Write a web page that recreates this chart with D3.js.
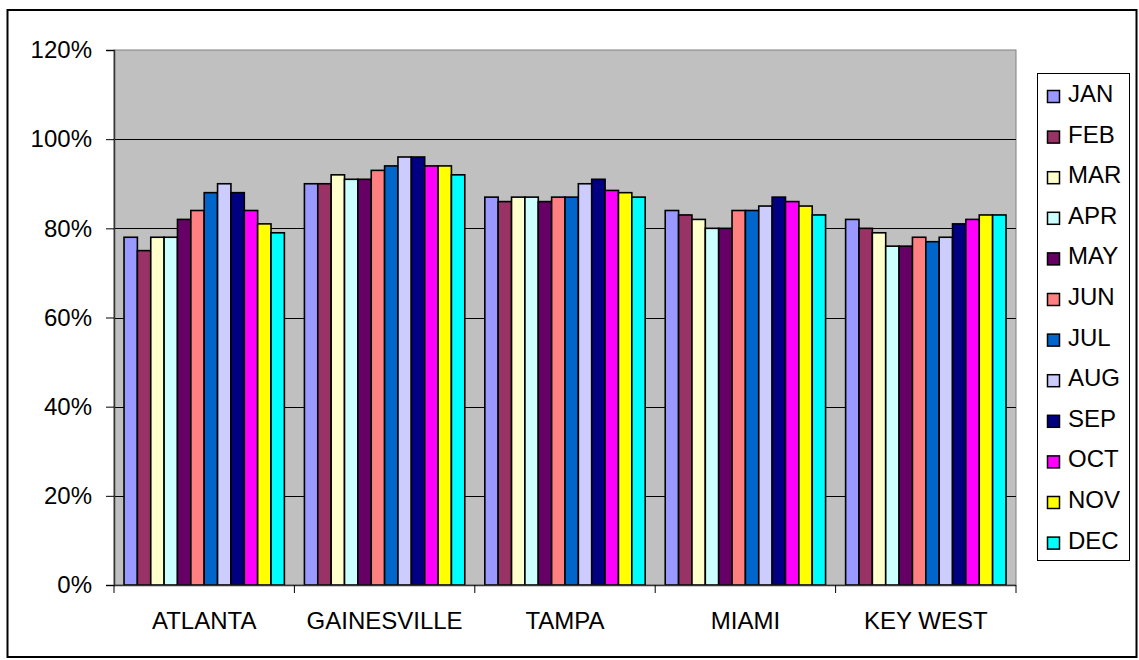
<!DOCTYPE html>
<html>
<head>
<meta charset="utf-8">
<script src="https://cdn.jsdelivr.net/npm/d3@7"></script>
<style>
  html, body { margin: 0; padding: 0; background: #fff; }
  svg { display: block; font-family: Arial, "Liberation Sans", sans-serif; }
</style>
</head>
<body>
<svg id="chart" width="1139" height="660"></svg>
<script>
// Cities along the category axis
const cities = ["ATLANTA", "GAINESVILLE", "TAMPA", "MIAMI", "KEY WEST"];
// Months, one series each
const months = ["JAN", "FEB", "MAR", "APR", "MAY", "JUN", "JUL", "AUG", "SEP", "OCT", "NOV", "DEC"];
const monthColors = ["#9999FF", "#993366", "#FFFFCC", "#CCFFFF", "#660066", "#FF8080",
                     "#0066CC", "#CCCCFF", "#000080", "#FF00FF", "#FFFF00", "#00FFFF"];

// Percent values per city, JAN..DEC
const atlanta     = [78, 75, 78, 78, 82, 84, 88, 90, 88, 84, 81, 79];
const gainesville = [90, 90, 92, 91, 91, 93, 94, 96, 96, 94, 94, 92];
const tampa       = [87, 86, 87, 87, 86, 87, 87, 90, 91, 88.5, 88, 87];
const miami       = [84, 83, 82, 80, 80, 84, 84, 85, 87, 86, 85, 83];
const keyWest     = [82, 80, 79, 76, 76, 78, 77, 78, 81, 82, 83, 83];
const cityValues = [atlanta, gainesville, tampa, miami, keyWest];

const yTicks = [0, 20, 40, 60, 80, 100, 120];

const svg = d3.select("#chart");

// Outer frame
svg.append("rect")
  .attr("x", 7.5).attr("y", 10).attr("width", 1129).attr("height", 647)
  .attr("fill", "#fff").attr("stroke", "#000").attr("stroke-width", 2);

const plot = { left: 114, right: 1016, top: 50, bottom: 585 };

const y = d3.scaleLinear().domain([0, 120]).range([plot.bottom, plot.top]);

// Cluster gap of 1.5 bar widths between cities
const gap = 1.5 / 13.5;
const x0 = d3.scaleBand().domain(cities).range([plot.left, plot.right])
  .paddingInner(gap).paddingOuter(gap / 2);
const x1 = d3.scaleBand().domain(months).range([0, x0.bandwidth()]).padding(0);

// Plot background
svg.append("rect")
  .attr("x", plot.left).attr("y", plot.top)
  .attr("width", plot.right - plot.left).attr("height", plot.bottom - plot.top)
  .attr("fill", "#C0C0C0").attr("stroke", "#808080").attr("stroke-width", 1);

// Horizontal gridlines
svg.append("g").selectAll("line")
  .data(yTicks.filter(t => t > 0 && t < 120))
  .join("line")
  .attr("x1", plot.left).attr("x2", plot.right)
  .attr("y1", d => Math.round(y(d)) + 0.5).attr("y2", d => Math.round(y(d)) + 0.5)
  .attr("stroke", "#000").attr("stroke-width", 1);

// Bars
const groups = svg.append("g").selectAll("g")
  .data(cities.map((c, i) => ({ city: c, values: cityValues[i] })))
  .join("g")
  .attr("transform", d => `translate(${x0(d.city)},0)`);

groups.selectAll("rect")
  .data(d => d.values.map((v, j) => ({ month: months[j], value: v, color: monthColors[j] })))
  .join("rect")
  .attr("x", d => x1(d.month))
  .attr("y", d => y(d.value))
  .attr("width", x1.bandwidth())
  .attr("height", d => y(0) - y(d.value))
  .attr("fill", d => d.color)
  .attr("stroke", "#000")
  .attr("stroke-width", 1.6);

// Y axis
const yAxis = d3.axisLeft(y).tickValues(yTicks).tickFormat(d => d + "%")
  .tickSize(8).tickPadding(14);
const gy = svg.append("g").attr("transform", `translate(${plot.left},0)`).call(yAxis);
gy.select(".domain").attr("stroke", "#333").attr("stroke-width", 1.5);
gy.selectAll(".tick line").attr("stroke", "#000");
gy.selectAll(".tick text").attr("font-size", 24).attr("fill", "#000")
  .attr("font-family", "Arial, 'Liberation Sans', sans-serif");

// X axis: ticks sit on category boundaries
const boundaries = d3.range(cities.length + 1).map(i => plot.left + i * x0.step());
const gx = svg.append("g");
gx.append("line")
  .attr("x1", plot.left).attr("x2", plot.right)
  .attr("y1", plot.bottom + 0.5).attr("y2", plot.bottom + 0.5)
  .attr("stroke", "#333").attr("stroke-width", 1.5);
gx.selectAll("line.tick")
  .data(boundaries)
  .join("line").attr("class", "tick")
  .attr("x1", d => d).attr("x2", d => d)
  .attr("y1", plot.bottom).attr("y2", plot.bottom + 8)
  .attr("stroke", "#000");
gx.selectAll("text")
  .data(cities)
  .join("text")
  .attr("x", d => x0(d) + x0.bandwidth() / 2)
  .attr("y", 629)
  .attr("text-anchor", "middle")
  .attr("font-size", 24)
  .attr("fill", "#000")
  .text(d => d);

// Legend
const legend = svg.append("g");
legend.append("rect")
  .attr("x", 1037.5).attr("y", 73.5).attr("width", 92).attr("height", 487)
  .attr("fill", "#fff").attr("stroke", "#000").attr("stroke-width", 1);

const items = legend.selectAll("g.item")
  .data(months)
  .join("g").attr("class", "item")
  .attr("transform", (d, i) => `translate(0,${102 + i * 40.6})`);
items.append("rect")
  .attr("x", 1047.5).attr("y", -11.5).attr("width", 12).attr("height", 12)
  .attr("fill", (d, i) => monthColors[i])
  .attr("stroke", "#000").attr("stroke-width", 1.5);
items.append("text")
  .attr("x", 1068).attr("y", 0)
  .attr("font-size", 24).attr("fill", "#000")
  .text(d => d);
</script>
</body>
</html>
